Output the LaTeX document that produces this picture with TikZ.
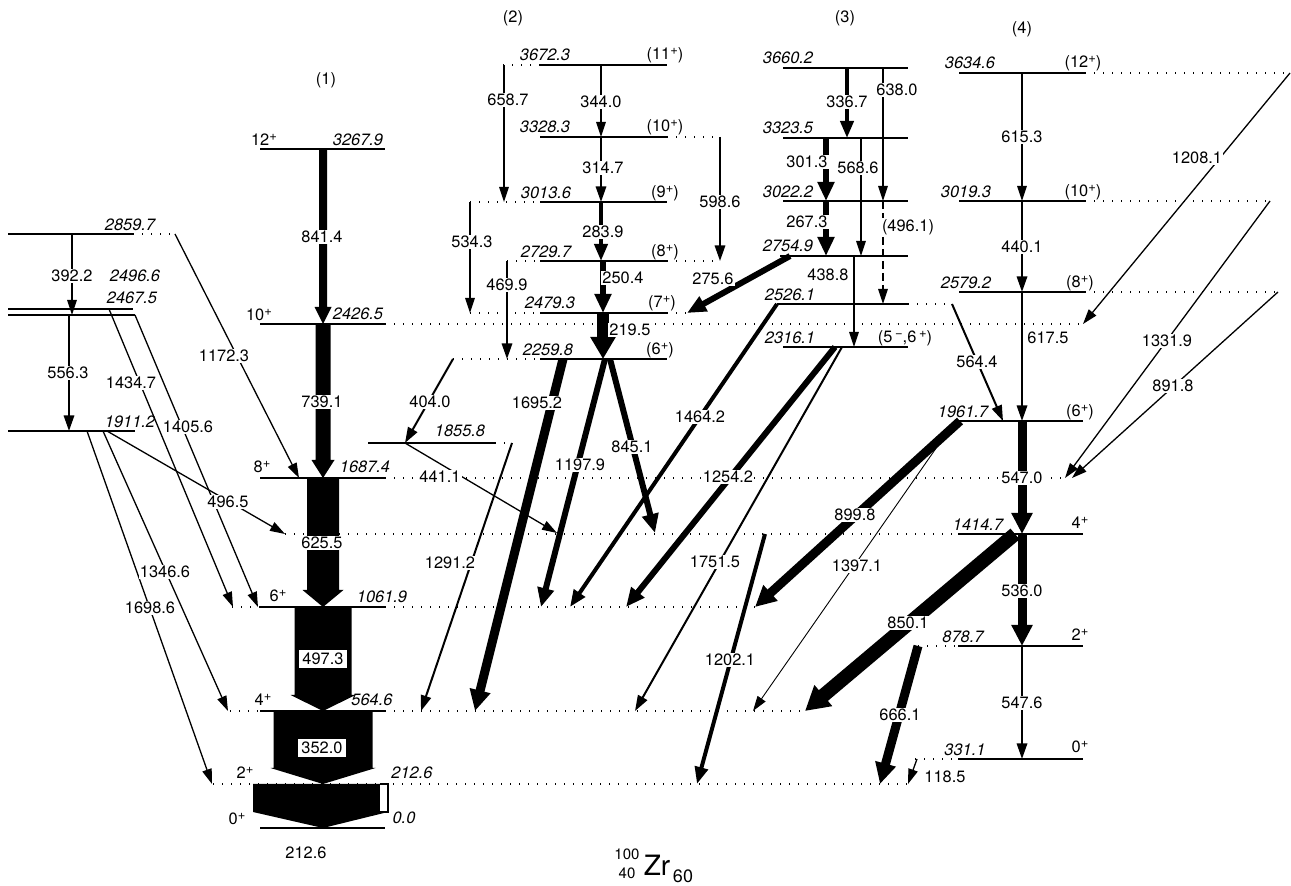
\documentclass[tikz,border=0pt]{standalone}
\usepackage{fontspec}
\setmainfont{TeX Gyre Heros}
\usetikzlibrary{arrows.meta}
\newcommand{\lfont}{\fontsize{8.2}{9}\selectfont}
\newcommand{\pty}[1]{\raisebox{0.6ex}{\fontsize{6.5}{7}\selectfont#1}}
% fat in-band arrow: x, y top, y bottom, half bar, half head, head length
\newcommand{\fatarr}[6]{%
  \fill ({#1-#4},#2) -- ({#1+#4},#2) -- ({#1+#4},{#3-#6}) -- ({#1+#5},{#3-#6})
    -- (#1,#3) -- ({#1-#5},{#3-#6}) -- ({#1-#4},{#3-#6}) -- cycle;}
\begin{document}
\begin{tikzpicture}[x=0.5pt, y=-0.5pt,
  lv/.style={line width=0.6pt},
  ext/.style={line width=0.6pt, dash pattern=on 0.7pt off 3.8pt},
  t1/.style={line width=0.65pt, -{Triangle[length=7.5pt, width=4.8pt]}},
  t2/.style={line width=1pt, -{Triangle[length=7.8pt, width=5.2pt]}},
  t3/.style={line width=2pt, -{Triangle[length=8.5pt, width=6.5pt]}},
  t4/.style={line width=3pt, -{Triangle[length=9.5pt, width=8pt]}},
  t5/.style={line width=4.5pt, -{Triangle[length=10.5pt, width=10pt]}},
  t6/.style={line width=7pt, -{Triangle[length=12pt, width=13pt]}},
  lbl/.style={fill=white, inner sep=0.6pt, font=\lfont},
  en/.style={inner sep=0pt, font=\lfont\itshape},
  sp/.style={inner sep=0pt, font=\lfont}
]
\useasboundingbox (0,0) rectangle (1291,886);

% levels, band (1)
\draw[lv] (260,149) -- (385,149);
\draw[lv] (260,324) -- (385,324); \draw[ext] (385,324) -- (1083,324);
\draw[lv] (260,478) -- (385,478); \draw[ext] (385,478) -- (1066,478);
\draw[ext] (285,534) -- (958,534);
\draw[ext] (232,607) -- (260,607); \draw[lv] (260,607) -- (385,607); \draw[ext] (385,607) -- (757,607);
\draw[ext] (230,711) -- (260,711); \draw[lv] (260,711) -- (385,711); \draw[ext] (385,711) -- (805,711);
\draw[ext] (213,784) -- (910,784);
\draw[lv] (260,828) -- (385,828);
% levels, left side
\draw[lv] (8,234) -- (133,234); \draw[ext] (133,234) -- (175,234);
\draw[lv] (8,309) -- (133,309);
\draw[lv] (8,315) -- (135,315);
\draw[lv] (8,431) -- (135,431);
% levels, band (2)
\draw[ext] (503,65) -- (540,65); \draw[lv] (540,65) -- (667,65);
\draw[lv] (540,137) -- (667,137); \draw[ext] (667,137) -- (720,137);
\draw[ext] (470,202) -- (540,202); \draw[lv] (540,202) -- (667,202);
\draw[ext] (507,261) -- (540,261); \draw[lv] (540,261) -- (667,261); \draw[ext] (667,261) -- (720,261);
\draw[ext] (470,313) -- (540,313); \draw[lv] (540,313) -- (667,313); \draw[ext] (667,313) -- (687,313);
\draw[ext] (453,359) -- (540,359); \draw[lv] (540,359) -- (667,359);
\draw[lv] (368,443) -- (495,443); \draw[ext] (495,443) -- (512,443);
% levels, band (3)
\draw[lv] (783,68) -- (908,68);
\draw[lv] (783,138) -- (908,138);
\draw[lv] (783,201) -- (908,201);
\draw[lv] (780,256) -- (908,256);
\draw[lv] (777,304) -- (908,304); \draw[ext] (908,304) -- (952,304);
\draw[lv] (783,347) -- (908,347);
% levels, band (4)
\draw[lv] (959,73) -- (1085,73); \draw[ext] (1085,73) -- (1290,73);
\draw[lv] (959,201) -- (1085,201); \draw[ext] (1085,201) -- (1270,201);
\draw[lv] (959,292) -- (1085,292); \draw[ext] (1085,292) -- (1278,292);
\draw[lv] (955,421) -- (1083,421);
\draw[lv] (958,534) -- (1083,534);
\draw[ext] (918,646) -- (958,646); \draw[lv] (958,646) -- (1083,646);
\draw[ext] (915,759) -- (958,759); \draw[lv] (958,759) -- (1083,759);

% band (1) intensities
\fatarr{323}{149}{324}{4}{8.5}{17}
\fatarr{323}{324}{478}{7.5}{11.5}{18}
\fatarr{323}{478}{607}{16}{20.5}{17}
\fatarr{323}{607}{711}{28.5}{32.5}{16}
\fatarr{323}{711}{784}{49.5}{52.5}{16}
\fill (253,784) -- (380,784) -- (380,812) -- (388,812) -- (323,828) -- (253,812) -- cycle;
\draw[line width=0.6pt, fill=white] (380,784) -- (388,784) -- (388,812) -- (380,812);

% left side
\draw[t1] (72,234) -- (72,315);
\draw[t2] (69,315) -- (69,431);
\draw[t1] (175,234) -- (299,478);
\draw[t1] (109,309) -- (233,607);
\draw[t1] (135,315) -- (258,607);
\draw[t1] (107,431) -- (285,534);
\draw[t1] (103,431) -- (228,711);
\draw[t1] (87,431) -- (212,784);

% band (2)
\draw[t1] (601,65) -- (601,137);
\draw[t2] (601,137) -- (601,202);
\draw[t3] (601,202) -- (601,261);
\draw[t4] (603,261) -- (603,313);
\draw[line width=6pt, -{Triangle[length=11pt, width=12pt]}] (603,313) -- (603,359);
\draw[t1] (504,65) -- (504,202);
\draw[t1] (470,202) -- (470,313);
\draw[t2] (507,261) -- (507,359);
\draw[t2] (720,137) -- (720,261);
\draw[t4] (790,256) -- (687,313);
\draw[t2] (453,359) -- (405,443);
\draw[t1] (405,443) -- (557,533);
\draw[t2] (512,443) -- (421,711);
\draw[t5] (563,359) -- (475,711);
\draw[t4] (605,359) -- (541,607);
\draw[t4] (610,359) -- (655,533);

% band (3)
\draw[t3] (847,68) -- (847,138);
\draw[t1] (883,68) -- (883,201);
\draw[t1, dash pattern=on 4pt off 2pt] (883,201) -- (883,304);
\draw[t4] (826,138) -- (826,201);
\draw[t1] (861,138) -- (861,256);
\draw[t4] (826,201) -- (826,256);
\draw[t1] (854,256) -- (854,347);
\draw[t3] (777,304) -- (570,607);
\draw[t4] (835,347) -- (626,607);
\draw[t2] (842,347) -- (635,711);

% band (4)
\draw[t1] (1022,73) -- (1022,201);
\draw[t2] (1022,201) -- (1022,292);
\draw[t2] (1022,292) -- (1022,421);
\draw[t5] (1022,421) -- (1022,534);
\draw[t5] (1022,534) -- (1022,646);
\draw[t2] (1022,646) -- (1022,759);
\draw[t2] (952,304) -- (1003,421);
\draw[t1] (1290,73) -- (1083,324);
\draw[t1] (1270,201) -- (1065,478);
\draw[t1] (1278,292) -- (1072,478);
\draw[t5] (960,421) -- (755,607);
\draw[line width=0.45pt, -{Triangle[length=7.5pt, width=4.8pt]}] (955,421) -- (753,711);
\draw[t6] (1015,534) -- (805,711);
\draw[t3] (765,534) -- (697,784);
\draw[t5] (918,646) -- (880,784);
\draw[t1] (917,759) -- (908,784);

% transition labels
\node[lbl] (g8414) at (322,237) {841.4};
\node[lbl] (g7391) at (322,402) {739.1};
\node[lbl] (g6255) at (322,543) {625.5};
\node[lbl, inner sep=1.5pt] (g4973) at (323,659) {497.3};
\node[lbl, inner sep=1.5pt] (g3520) at (322,748) {352.0};
\node[sp] (g2126) at (306,853) {212.6};
\node[lbl] (g3922) at (72,276) {392.2};
\node[lbl] (g5563) at (68,373) {556.3};
\node[lbl] (g11723) at (224,356) {1172.3};
\node[lbl] (g14347) at (131,383) {1434.7};
\node[lbl] (g14056) at (188,427) {1405.6};
\node[lbl] (g4965) at (228,502) {496.5};
\node[lbl] (g13466) at (165,572) {1346.6};
\node[lbl] (g16986) at (150,608) {1698.6};
\node[lbl] (g3440) at (601,102) {344.0};
\node[lbl] (g3147) at (603,168) {314.7};
\node[lbl] (g2839) at (603,232) {283.9};
\node[lbl] (g2504) at (623,278) {250.4};
\node[lbl] (g2195) at (630,330) {219.5};
\node[lbl] (g6587) at (508,100) {658.7};
\node[lbl] (g5343) at (472,242) {534.3};
\node[lbl] (g4699) at (507,285) {469.9};
\node[lbl] (g5986) at (720,202) {598.6};
\node[lbl] (g2756) at (713,279) {275.6};
\node[lbl] (g4040) at (430,402) {404.0};
\node[lbl] (g4411) at (440,477) {441.1};
\node[lbl] (g12912) at (450,563) {1291.2};
\node[lbl] (g16952) at (537,403) {1695.2};
\node[lbl] (g11979) at (580,465) {1197.9};
\node[lbl] (g8451) at (632,447) {845.1};
\node[lbl] (g3367) at (847,102) {336.7};
\node[lbl] (g6380) at (897,90) {638.0};
\node[lbl] (g4961) at (908,227) {(496.1)};
\node[lbl] (g3013) at (807,162) {301.3};
\node[lbl] (g5686) at (858,168) {568.6};
\node[lbl] (g2673) at (807,222) {267.3};
\node[lbl] (g4388) at (828,275) {438.8};
\node[lbl] (g14642) at (700,417) {1464.2};
\node[lbl] (g12542) at (728,477) {1254.2};
\node[lbl] (g17515) at (715,562) {1751.5};
\node[lbl] (g6153) at (1022,137) {615.3};
\node[lbl] (g4401) at (1022,247) {440.1};
\node[lbl] (g6175) at (1048,338) {617.5};
\node[lbl] (g5470) at (1022,478) {547.0};
\node[lbl] (g5360) at (1022,591) {536.0};
\node[lbl] (g5476) at (1022,703) {547.6};
\node[lbl] (g5644) at (977,362) {564.4};
\node[lbl] (g12081) at (1197,158) {1208.1};
\node[lbl] (g13319) at (1167,341) {1331.9};
\node[lbl] (g8918) at (1173,386) {891.8};
\node[lbl] (g8998) at (855,515) {899.8};
\node[lbl] (g13971) at (857,566) {1397.1};
\node[lbl] (g8501) at (908,623) {850.1};
\node[lbl] (g12021) at (730,660) {1202.1};
\node[lbl] (g6661) at (900,715) {666.1};
\node[sp] (g1185) at (945,777) {118.5};

% level energies
\node[en] (e32679) at (358,140) {3267.9};
\node[en] (e24265) at (358,314) {2426.5};
\node[en] (e16874) at (365,467) {1687.4};
\node[en] (e10619) at (382,597) {1061.9};
\node[en] (e5646) at (372,700) {564.6};
\node[en] (e2126) at (412,773) {212.6};
\node[en] (e00) at (404,818) {0.0};
\node[en] (e28597) at (130,225) {2859.7};
\node[en] (e24966) at (135,276) {2496.6};
\node[en] (e24675) at (132,298) {2467.5};
\node[en] (e19112) at (130,422) {1911.2};
\node[en] (e18558) at (460,431) {1855.8};
\node[en] (e36723) at (545,55) {3672.3};
\node[en] (e33283) at (545,127) {3328.3};
\node[en] (e30136) at (546,193) {3013.6};
\node[en] (e27297) at (546,252) {2729.7};
\node[en] (e24793) at (550,303) {2479.3};
\node[en] (e22598) at (548,350) {2259.8};
\node[en] (e36602) at (788,58) {3660.2};
\node[en] (e33235) at (788,128) {3323.5};
\node[en] (e30222) at (788,192) {3022.2};
\node[en] (e27549) at (788,246) {2754.9};
\node[en] (e25261) at (790,295) {2526.1};
\node[en] (e23161) at (790,338) {2316.1};
\node[en] (e36346) at (970,63) {3634.6};
\node[en] (e30193) at (966,192) {3019.3};
\node[en] (e25792) at (966,283) {2579.2};
\node[en] (e19617) at (963,412) {1961.7};
\node[en] (e14147) at (978,525) {1414.7};
\node[en] (e8787) at (963,637) {878.7};
\node[en] (e3311) at (965,750) {331.1};

% spins and parities
\node[sp] (s12a) at (264,140) {12\pty{+}};
\node[sp] (s10a) at (259,315) {10\pty{+}};
\node[sp] (s8a) at (262,467) {8\pty{+}};
\node[sp] (s6a) at (278,596) {6\pty{+}};
\node[sp] (s4a) at (263,700) {4\pty{+}};
\node[sp] (s2a) at (245,773) {2\pty{+}};
\node[sp] (s0a) at (237,819) {0\pty{+}};
\node[sp] (s11b) at (665,55) {(11\pty{+})};
\node[sp] (s10b) at (665,127) {(10\pty{+})};
\node[sp] (s9b) at (665,193) {(9\pty{+})};
\node[sp] (s8b) at (665,252) {(8\pty{+})};
\node[sp] (s7b) at (662,303) {(7\pty{+})};
\node[sp] (s6b) at (660,350) {(6\pty{+})};
\node[sp] (s56c) at (905,338) {(5\,\pty{−},6\,\pty{+})};
\node[sp] (s12d) at (1083,63) {(12\pty{+})};
\node[sp] (s10d) at (1083,192) {(10\pty{+})};
\node[sp] (s8d) at (1080,283) {(8\pty{+})};
\node[sp] (s6d) at (1080,412) {(6\pty{+})};
\node[sp] (s4d) at (1080,523) {4\pty{+}};
\node[sp] (s2d) at (1080,635) {2\pty{+}};
\node[sp] (s0d) at (1080,747) {0\pty{+}};

% band headers and nucleus
\node[sp] (b1) at (326,80) {(1)};
\node[sp] (b2) at (513,18) {(2)};
\node[sp] (b3) at (845,18) {(3)};
\node[sp] (b4) at (1022,29) {(4)};
\node[inner sep=0pt, font=\fontsize{7.5}{8}\selectfont] (nA) at (627,854) {100};
\node[inner sep=0pt, font=\fontsize{7.5}{8}\selectfont] (nZ) at (627,873) {40};
\node[inner sep=0pt, font=\fontsize{14}{15}\selectfont] (nS) at (657,865) {Zr};
\node[inner sep=0pt, font=\fontsize{9}{10}\selectfont] (nN) at (683,876) {60};
\end{tikzpicture}
\end{document}
